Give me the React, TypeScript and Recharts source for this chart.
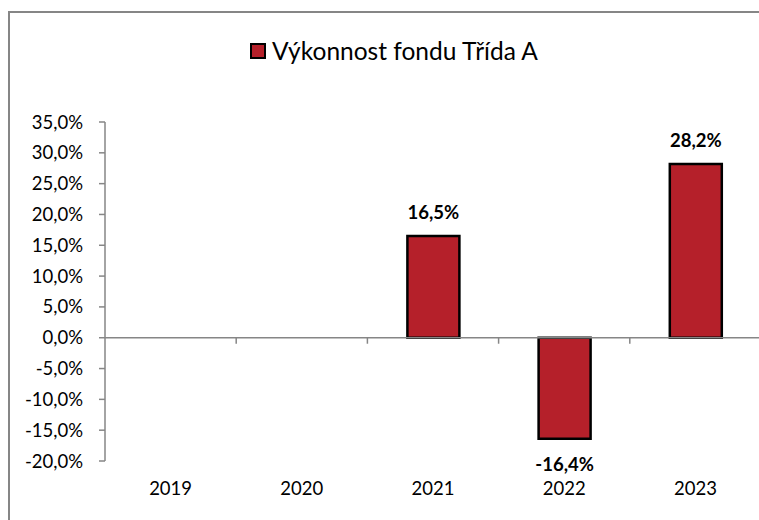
import React from 'react';
import {
  BarChart, Bar, XAxis, YAxis, Legend, ReferenceLine, LabelList,
} from 'recharts';

// chart data
const years = ['2019', '2020', '2021', '2022', '2023'];
const performance: (number | null)[] = [null, null, 16.5, -16.4, 28.2];
const yTicks = [-20, -15, -10, -5, 0, 5, 10, 15, 20, 25, 30, 35];
const seriesName = 'Výkonnost fondu Třída A';

const data = years.map((year, i) => ({ year, value: performance[i] }));

const RED = '#B5202A';
const GREY = '#868686';
const FONT = 'Lato, "Open Sans", sans-serif';

const pct = (v: number) => `${v.toFixed(1).replace('.', ',')}%`;

// zero line with category tick marks (Excel style axis crossing at 0)
const ZeroAxis = (props: any) => {
  const { x1, x2, y1 } = props;
  const step = (x2 - x1) / years.length;
  const marks = years.map((_, i) => x1 + (i + 1) * step);
  return (
    <g>
      <line x1={x1} x2={x2} y1={y1} y2={y1} stroke={GREY} strokeWidth={1.5} />
      {marks.map((x) => (
        <line key={x} x1={x} x2={x} y1={y1} y2={y1 + 6} stroke={GREY} strokeWidth={1.5} />
      ))}
    </g>
  );
};

const ValueLabel = (props: any) => {
  const { x, y, width, height, value } = props;
  if (value == null) return null;
  const top = Math.min(y, y + height);
  const bottom = Math.max(y, y + height);
  const cx = x + width / 2;
  const ty = value >= 0 ? top - 17 : bottom + 32;
  return (
    <text x={cx} y={ty} textAnchor="middle" fontFamily={FONT} fontSize={18.5} fontWeight={700} fill="#000">
      {pct(value)}
    </text>
  );
};

const LegendBox = (props: any) => {
  const item = props.payload?.[0];
  return (
    <div style={{ display: 'flex', justifyContent: 'center', alignItems: 'center', lineHeight: '28px' }}>
      <span style={{ display: 'inline-block', width: 12, height: 12, background: RED, border: '2px solid #000' }} />
      <span style={{ marginLeft: 6, fontSize: 24.5, fontFamily: FONT, color: '#000' }}>{item?.value}</span>
    </div>
  );
};

export default function App() {
  return (
    <div style={{ position: 'fixed', left: 0, top: 0, width: 759, height: 520, overflow: 'hidden', background: '#fff' }}>
      <div style={{ position: 'absolute', left: 8, top: 11, width: 800, height: 600, border: `2px solid ${GREY}` }} />
      <div style={{ position: 'absolute', left: 0, top: 0 }}>
        <BarChart width={800} height={540} data={data} margin={{ top: 122, right: 39, left: 0, bottom: 49 }}>
          <Legend
            verticalAlign="middle"
            content={<LegendBox />}
            wrapperStyle={{ top: 37, left: 0, width: 788 }}
          />
          <YAxis
            width={105}
            domain={[-20, 35]}
            ticks={yTicks}
            interval={0}
            tickFormatter={pct}
            axisLine={{ stroke: GREY, strokeWidth: 1.5 }}
            tickLine={{ stroke: GREY, strokeWidth: 1.5 }}
            tickSize={6}
            tickMargin={16}
            tick={{ fill: '#000', fontSize: 18.5, fontFamily: FONT }}
          />
          <XAxis
            dataKey="year"
            height={30}
            axisLine={false}
            tickLine={false}
            tickSize={0}
            tickMargin={21}
            tick={{ fill: '#000', fontSize: 18.5, fontFamily: FONT }}
          />
          <ReferenceLine y={0} shape={<ZeroAxis />} />
          <Bar
            dataKey="value"
            name={seriesName}
            fill={RED}
            stroke="#000"
            strokeWidth={2.5}
            barSize={52}
            isAnimationActive={false}
          >
            <LabelList dataKey="value" content={<ValueLabel />} />
          </Bar>
        </BarChart>
      </div>
    </div>
  );
}
